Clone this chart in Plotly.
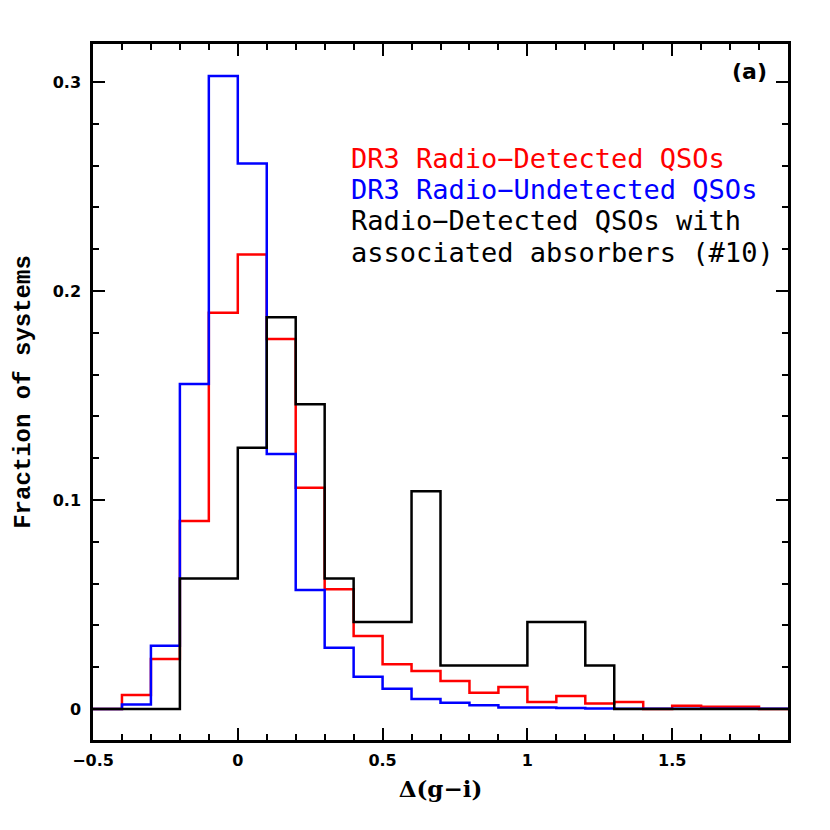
import plotly.graph_objects as go

# bin edges of the histogram, Delta(g-i)
bin_edges = [round(-0.5 + 0.1 * i, 1) for i in range(25)]

# DR3 radio-detected QSOs (red)
detected = [0.0, 0.0067, 0.024, 0.090, 0.1896, 0.2175, 0.177, 0.1059, 0.0573, 0.0349,
            0.0214, 0.0182, 0.0134, 0.0078, 0.0105, 0.0034, 0.0062, 0.0027, 0.0034, 0.0,
            0.0016, 0.0011, 0.0011, 0.0]
# DR3 radio-undetected QSOs (blue)
undetected = [0.0, 0.0022, 0.0303, 0.1555, 0.3029, 0.261, 0.122, 0.057, 0.0293, 0.0155,
              0.0097, 0.0048, 0.003, 0.0018, 0.0008, 0.0007, 0.0005, 0.0003, 0.0002, 0.0002,
              0.0001, 0.0001, 0.0001, 0.0001]
# radio-detected QSOs with associated absorbers (black)
absorbers = [0.0, 0.0, 0.0, 0.0625, 0.0625, 0.125, 0.1875, 0.1458, 0.0625, 0.0417,
             0.0417, 0.1042, 0.0208, 0.0208, 0.0208, 0.0417, 0.0417, 0.0208, 0.0, 0.0,
             0.0, 0.0, 0.0, 0.0]

legend_lines = ["DR3 Radio\u2212Detected QSOs", "DR3 Radio\u2212Undetected QSOs",
                "Radio\u2212Detected QSOs with", "associated absorbers (#10)"]
legend_colors = ["#ff0000", "#0000ff", "#000000", "#000000"]

x_ticks = [-0.5, 0, 0.5, 1, 1.5]
x_tick_labels = ["\u22120.5", "0", "0.5", "1", "1.5"]
y_ticks = [0, 0.1, 0.2, 0.3]
y_tick_labels = ["0", "0.1", "0.2", "0.3"]

fig = go.Figure()
for vals, col in [(detected, "#ff0000"), (undetected, "#0000ff"), (absorbers, "#000000")]:
    fig.add_trace(go.Scatter(x=bin_edges, y=vals + [vals[-1]], mode="lines",
                             line=dict(shape="hv", color=col, width=2.5),
                             showlegend=False, hoverinfo="skip"))

tickfont = dict(family="DejaVu Sans", size=16, color="black", weight="bold")
axis_common = dict(showgrid=False, zeroline=False, showline=True, linecolor="black",
                   linewidth=2.5, mirror="ticks", ticks="inside", tickwidth=2,
                   tickcolor="black", ticklen=12, tickfont=tickfont)

fig.update_xaxes(range=[-0.5, 1.9], tickvals=x_ticks, ticktext=x_tick_labels,
                 ticklabelstandoff=4,
                 minor=dict(dtick=0.1, tick0=-0.5, ticks="inside", ticklen=6,
                            tickwidth=2, tickcolor="black"),
                 title=dict(text="\u0394(g\u2212i)", standoff=12,
                            font=dict(family="DejaVu Serif", size=23, color="black",
                                      weight="bold")),
                 **axis_common)
fig.update_yaxes(range=[-0.0148, 0.3182], tickvals=y_ticks, ticktext=y_tick_labels,
                 ticklabelstandoff=6,
                 minor=dict(dtick=0.02, tick0=0, ticks="inside", ticklen=6,
                            tickwidth=2, tickcolor="black"),
                 title=dict(text="Fraction of systems", standoff=16,
                            font=dict(family="Liberation Mono", size=24, color="black",
                                      weight="bold")),
                 **axis_common)

y0 = 0.836
for i, (txt, col) in enumerate(zip(legend_lines, legend_colors)):
    fig.add_annotation(text=txt, xref="paper", yref="paper", x=0.369, y=y0 - 0.045 * i,
                       xanchor="left", yanchor="middle", showarrow=False,
                       font=dict(family="DejaVu Sans Mono", size=27, color=col))
fig.add_annotation(text="(a)", xref="paper", yref="paper", x=0.972, y=0.96,
                   xanchor="right", yanchor="middle", showarrow=False,
                   font=dict(family="DejaVu Sans", size=22, color="black", weight="bold"))

fig.update_layout(width=822, height=822, margin=dict(l=82, r=42, t=36, b=90),
                  plot_bgcolor="white", paper_bgcolor="white")
fig.write_html("out.html")
